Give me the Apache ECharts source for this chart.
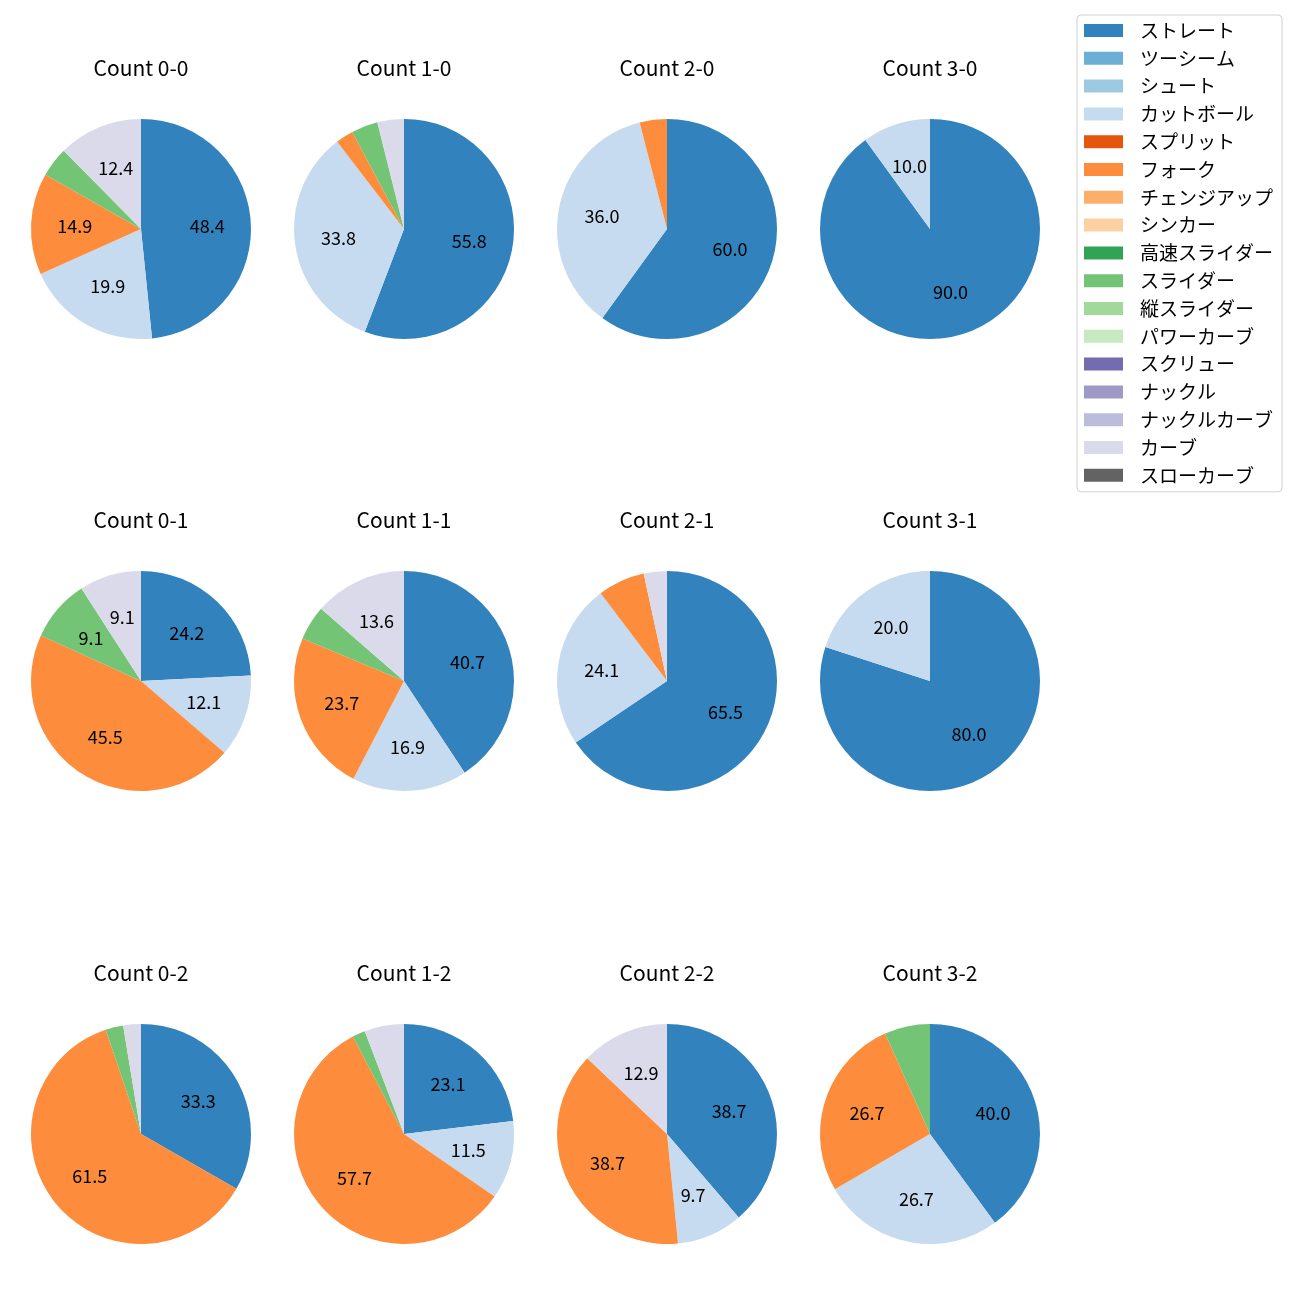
<!DOCTYPE html>
<html>
<head>
<meta charset="utf-8">
<script src="https://cdn.jsdelivr.net/npm/echarts@6/dist/echarts.min.js"></script>
<style>html,body{margin:0;padding:0;background:#fff;}#main{width:1300px;height:1300px;}</style>
</head>
<body>
<div id="main"></div>
<script>
const pitchTypes = ['ストレート','ツーシーム','シュート','カットボール','スプリット','フォーク','チェンジアップ','シンカー','高速スライダー','スライダー','縦スライダー','パワーカーブ','スクリュー','ナックル','ナックルカーブ','カーブ','スローカーブ'];
const pitchColors = ['#3182bd','#6baed6','#9ecae1','#c6dbef','#e6550d','#fd8d3c','#fdae6b','#fdd0a2','#31a354','#74c476','#a1d99b','#c7e9c0','#756bb1','#9e9ac8','#bcbddc','#dadaeb','#636363'];

const countTitles = ['Count 0-0','Count 1-0','Count 2-0','Count 3-0','Count 0-1','Count 1-1','Count 2-1','Count 3-1','Count 0-2','Count 1-2','Count 2-2','Count 3-2'];
//                 St   2S Sh  Cut  Spl Fork CH Sk HSl  Sl  VSl PC Scr Kn KC  Cu  SC
const count00 = [48.4, 0, 0, 19.9, 0, 14.9, 0, 0, 0, 4.4, 0, 0, 0, 0, 0, 12.4, 0];
const count10 = [55.8, 0, 0, 33.8, 0, 2.6, 0, 0, 0, 3.9, 0, 0, 0, 0, 0, 3.9, 0];
const count20 = [60.0, 0, 0, 36.0, 0, 4.0, 0, 0, 0, 0, 0, 0, 0, 0, 0, 0, 0];
const count30 = [90.0, 0, 0, 10.0, 0, 0, 0, 0, 0, 0, 0, 0, 0, 0, 0, 0, 0];
const count01 = [24.2, 0, 0, 12.1, 0, 45.5, 0, 0, 0, 9.1, 0, 0, 0, 0, 0, 9.1, 0];
const count11 = [40.7, 0, 0, 16.9, 0, 23.7, 0, 0, 0, 5.1, 0, 0, 0, 0, 0, 13.6, 0];
const count21 = [65.5, 0, 0, 24.1, 0, 6.9, 0, 0, 0, 0, 0, 0, 0, 0, 0, 3.4, 0];
const count31 = [80.0, 0, 0, 20.0, 0, 0, 0, 0, 0, 0, 0, 0, 0, 0, 0, 0, 0];
const count02 = [33.3, 0, 0, 0, 0, 61.5, 0, 0, 0, 2.6, 0, 0, 0, 0, 0, 2.6, 0];
const count12 = [23.1, 0, 0, 11.5, 0, 57.7, 0, 0, 0, 1.9, 0, 0, 0, 0, 0, 5.8, 0];
const count22 = [38.7, 0, 0, 9.7, 0, 38.7, 0, 0, 0, 0, 0, 0, 0, 0, 0, 12.9, 0];
const count32 = [40.0, 0, 0, 26.7, 0, 26.7, 0, 0, 0, 6.7, 0, 0, 0, 0, 0, 0, 0];
const countValues = [count00,count10,count20,count30,count01,count11,count21,count31,count02,count12,count22,count32];

const colX = [141, 404, 667, 930];
const rowY = [229, 681, 1134];
const R = 110;
const FONT = '"Noto Sans CJK JP", "Noto Sans", sans-serif';

const series = [];
const titles = [];
countValues.forEach((vals, i) => {
  const cx = colX[i % 4], cy = rowY[Math.floor(i / 4)];
  const data = pitchTypes.map((n, k) => ({ name: n, value: vals[k], itemStyle: { color: pitchColors[k] } }));
  series.push({
    type: 'pie', center: [cx, cy], radius: [0, R], startAngle: 90, clockwise: true,
    minAngle: 0, avoidLabelOverlap: false, silent: true, animation: false,
    itemStyle: { borderWidth: 0 },
    label: { show: false }, labelLine: { show: false },
    data: data
  });
  series.push({
    type: 'pie', center: [cx, cy], radius: [R * 0.15, R], startAngle: 90, clockwise: true,
    minAngle: 0, avoidLabelOverlap: false, silent: true, animation: false,
    itemStyle: { color: 'rgba(0,0,0,0)', borderWidth: 0 },
    label: { show: true, position: 'inside', color: '#000', fontSize: 18, fontFamily: FONT,
      formatter: p => p.value >= 8 ? p.value.toFixed(1) : '' },
    labelLine: { show: false },
    data: pitchTypes.map((n, k) => ({ name: n, value: vals[k], itemStyle: { color: 'rgba(0,0,0,0)' } }))
  });
  titles.push({ text: countTitles[i], left: cx, top: cy - 171, textAlign: 'center', padding: 0,
    textStyle: { fontSize: 21, fontWeight: 'normal', color: '#000', fontFamily: FONT } });
});

const chart = echarts.init(document.getElementById('main'), null, { renderer: 'canvas' });
chart.setOption({
  animation: false,
  backgroundColor: '#fff',
  title: titles,
  legend: {
    orient: 'vertical', left: 1077, top: 15,
    data: pitchTypes, itemWidth: 39, itemHeight: 13, itemGap: 8.8,
    icon: 'rect', selectedMode: false,
    borderColor: '#d0d0d0', borderWidth: 1, borderRadius: 4,
    padding: [6, 9, 7, 7],
    textStyle: { fontSize: 19, lineHeight: 19, color: '#000', fontFamily: FONT, padding: [0, 0, 0, 12] }
  },
  series: series
});
</script>
</body>
</html>
